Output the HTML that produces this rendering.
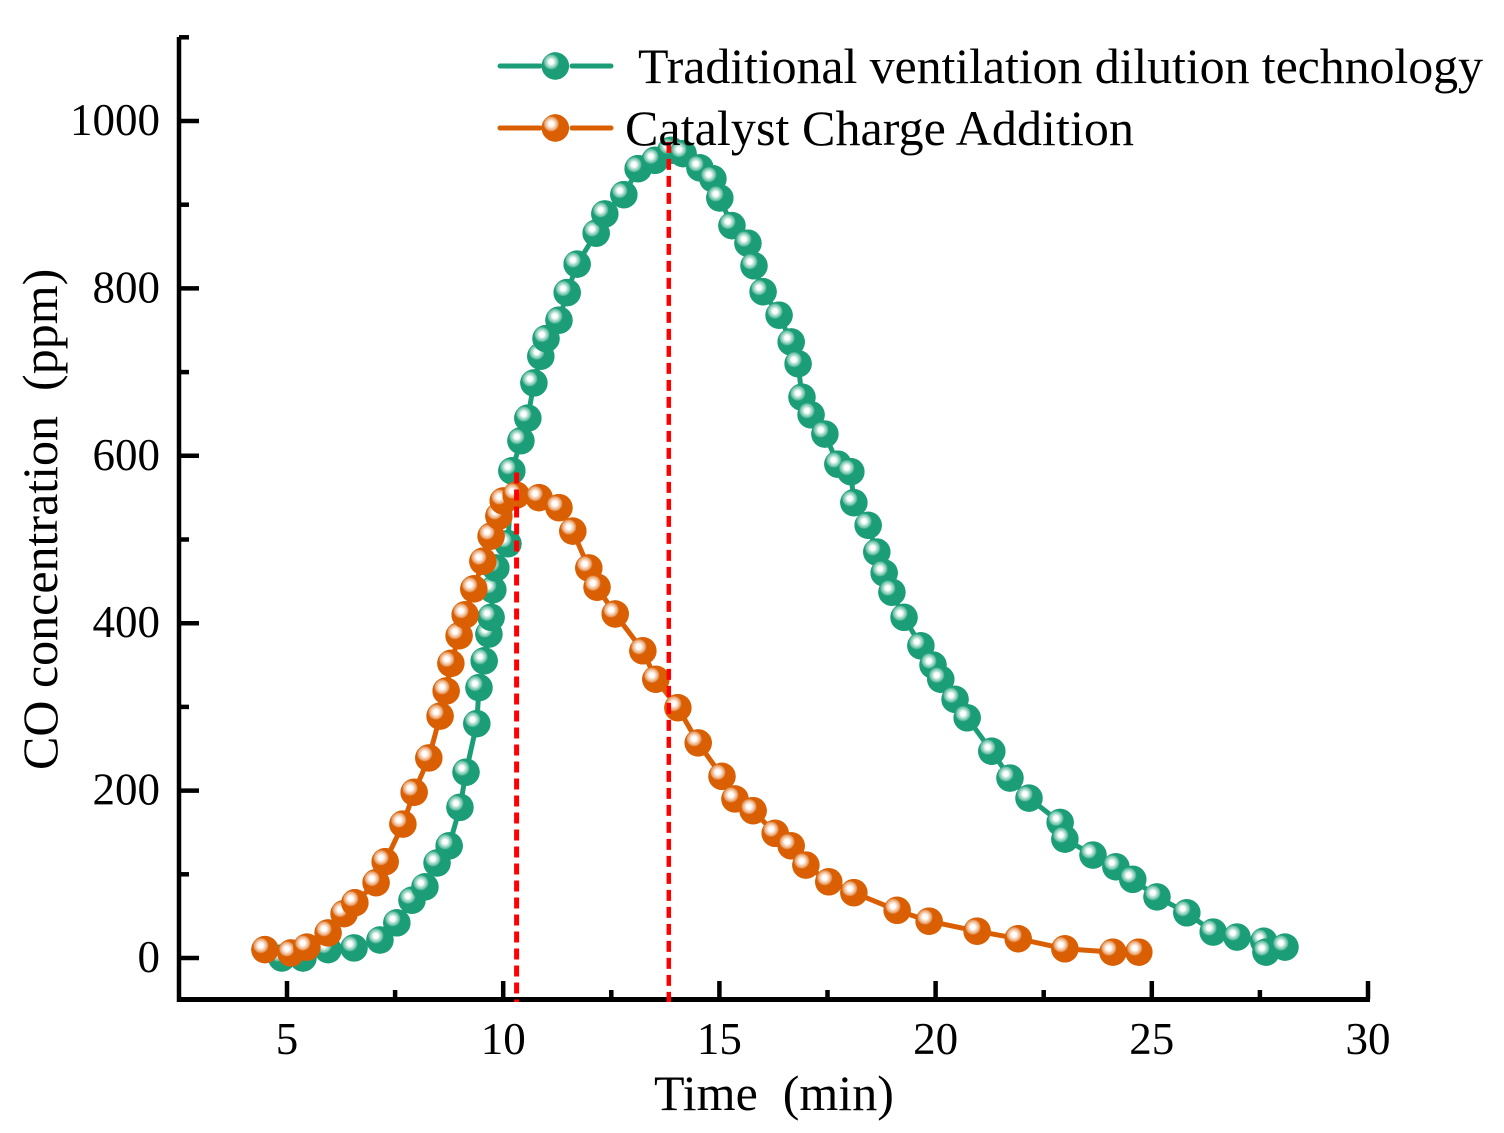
<!DOCTYPE html>
<html>
<head>
<meta charset="utf-8">
<title>CO concentration vs time</title>
<style>
html,body{margin:0;padding:0;background:#fff;}
svg{display:block;}
text{font-family:"Liberation Serif",serif;fill:#000;white-space:pre;}
</style>
</head>
<body>
<svg id="chart" xmlns="http://www.w3.org/2000/svg" width="1504" height="1133" viewBox="0 0 1504 1133">
<defs>
<radialGradient id="gloss-green" cx="0.35" cy="0.35" r="0.29">
<stop offset="0" stop-color="#ffffff"/><stop offset="0.28" stop-color="#ffffff"/><stop offset="0.55" stop-color="#b4e0d2"/><stop offset="0.85" stop-color="#66bfa4"/><stop offset="1" stop-color="#1b9e77"/>
</radialGradient>
<radialGradient id="gloss-orange" cx="0.35" cy="0.35" r="0.29">
<stop offset="0" stop-color="#ffffff"/><stop offset="0.28" stop-color="#ffffff"/><stop offset="0.55" stop-color="#f6d3b8"/><stop offset="0.85" stop-color="#e79c64"/><stop offset="1" stop-color="#d95f02"/>
</radialGradient>
</defs>
<g id="series"></g>
<g id="axes"></g>
<g id="refs"></g>
<g id="legend">
<g>
<line x1="500" y1="66" x2="540" y2="66" stroke="#1b9e77" stroke-width="5" stroke-linecap="round"/>
<line x1="572" y1="66" x2="611" y2="66" stroke="#1b9e77" stroke-width="5" stroke-linecap="round"/>
<circle cx="555.3" cy="66" r="13.7" fill="#1b9e77"/>
<circle cx="555.3" cy="66" r="13.7" fill="url(#gloss-green)"/>
<text x="638" y="83" font-size="50" textLength="845">Traditional ventilation dilution technology</text>
</g>
<g>
<line x1="500" y1="128" x2="540" y2="128" stroke="#d95f02" stroke-width="5" stroke-linecap="round"/>
<line x1="572" y1="128" x2="611" y2="128" stroke="#d95f02" stroke-width="5" stroke-linecap="round"/>
<circle cx="555.3" cy="128" r="13.7" fill="#d95f02"/>
<circle cx="555.3" cy="128" r="13.7" fill="url(#gloss-orange)"/>
<text x="625" y="145" font-size="50" textLength="509">Catalyst Charge Addition</text>
</g>
</g>
</svg>
<script>
const traditionalTime = [4.88,5.37,5.95,6.55,7.15,7.54,7.89,8.19,8.47,8.75,9.00,9.14,9.39,9.44,9.56,9.67,9.72,9.76,9.83,10.11,10.20,10.41,10.57,10.71,10.87,10.99,11.29,11.48,11.71,12.15,12.35,12.79,13.12,13.51,13.88,14.16,14.55,14.85,15.01,15.29,15.66,15.80,16.01,16.38,16.66,16.82,16.91,17.12,17.44,17.74,18.04,18.11,18.44,18.64,18.81,18.99,19.27,19.66,19.94,20.12,20.45,20.73,21.30,21.72,22.16,22.88,22.99,23.64,24.17,24.56,25.12,25.81,26.42,26.97,27.59,27.64,28.08];
const traditionalCO = [0,0,10,12,21.5,42,69,85,113.5,134,180,222,280,323,355,387,407,440,466,495,582,618,645,687,719,740,762,795,829,866,889,912,943,953,965,961,944,931,908,875,854,827,796,768,736,710,670,649,626,590,581,544,517,485,460,437,407,373,350,333,309,287,247,215,191,162,142,123,109,94,73,54,31,25,20,7,13];
const catalystTime = [4.49,5.09,5.46,5.95,6.32,6.57,7.06,7.27,7.68,7.94,8.28,8.54,8.68,8.79,8.98,9.12,9.32,9.53,9.72,9.90,10.00,10.30,10.83,11.29,11.61,11.98,12.17,12.59,13.23,13.53,14.04,14.51,15.06,15.36,15.78,16.29,16.66,17.00,17.53,18.11,19.11,19.85,20.96,21.91,22.99,24.10,24.70];
const catalystCO = [10,6,13,30,53,66,90,115,160,198,239,289,319,352,385,410,441,474,504,528,546,553,550,538,510,466,443,411,367,333,299,257,217,190,176,149,134,111,91,78,57,44,32,23,11,7,7];
const xTickValues = [5,10,15,20,25,30];
const xMinorValues = [7.5,12.5,17.5,22.5,27.5];
const yTickValues = [0,200,400,600,800,1000];
const yMinorValues = [100,300,500,700,900,1100];
const peakTimes = [10.31,13.83];
const peakTops = [580,975];

const NS = 'http://www.w3.org/2000/svg';
function xScale(v){ return 287 + (v - 5) * 43.24; }
function yScale(v){ return 958 - v * 0.837; }
function make(tag, attrs, parent){
  const el = document.createElementNS(NS, tag);
  for (const k in attrs) el.setAttribute(k, attrs[k]);
  parent.appendChild(el);
  return el;
}
const seriesG = document.getElementById('series');
const refsG = document.getElementById('refs');
const axesG = document.getElementById('axes');

function drawSeries(name, times, values, color, gloss){
  const g = make('g', {}, seriesG);
  
  
  const pts = times.map((t, i) => xScale(t).toFixed(1) + ',' + yScale(values[i]).toFixed(1)).join(' ');
  const line = make('polyline', {points: pts, fill: 'none', stroke: color, 'stroke-width': 5}, g);
  
  
  times.forEach((t, i) => {
    const m = make('g', {}, g);
    
    
    make('circle', {cx: xScale(t), cy: yScale(values[i]), r: 13.7, fill: color}, m);
    make('circle', {cx: xScale(t), cy: yScale(values[i]), r: 13.7, fill: gloss}, m);
  });
}
drawSeries('traditional', traditionalTime, traditionalCO, '#1b9e77', 'url(#gloss-green)');
drawSeries('catalyst', catalystTime, catalystCO, '#d95f02', 'url(#gloss-orange)');

peakTimes.forEach((t, i) => {
  const l = make('line', {x1: xScale(t), x2: xScale(t), y1: yScale(peakTops[i]), y2: 1002, stroke: '#ff0000', 'stroke-width': i === 0 ? 5 : 4.5, 'stroke-dasharray': '11 6'}, refsG);
  
  
});

const xAxis = make('line', {x1: 177, x2: 1370, y1: 999.5, y2: 999.5, stroke: '#000', 'stroke-width': 5}, axesG);


const yAxis = make('line', {x1: 179, x2: 179, y1: 37, y2: 1002, stroke: '#000', 'stroke-width': 4.5}, axesG);



xTickValues.forEach(v => {
  const t = make('line', {x1: xScale(v), x2: xScale(v), y1: 981, y2: 999, stroke: '#000', 'stroke-width': 4.5}, axesG);
  
  
  const lab = make('text', {x: xScale(v), y: 1054, 'font-size': 45, 'text-anchor': 'middle'}, axesG);
  lab.textContent = v;
  
  
});
xMinorValues.forEach(v => {
  const t = make('line', {x1: xScale(v), x2: xScale(v), y1: 990, y2: 999, stroke: '#000', 'stroke-width': 4.5}, axesG);
  
  
});
yTickValues.forEach(v => {
  const t = make('line', {x1: 179, x2: 199, y1: yScale(v), y2: yScale(v), stroke: '#000', 'stroke-width': 4.5}, axesG);
  
  
  const lab = make('text', {x: 160, y: yScale(v) + 14, 'font-size': 45, 'text-anchor': 'end'}, axesG);
  lab.textContent = v;
  
  
});
yMinorValues.forEach(v => {
  const t = make('line', {x1: 179, x2: 189, y1: yScale(v), y2: yScale(v), stroke: '#000', 'stroke-width': 4.5}, axesG);
  
  
});

const xTitle = make('text', {x: 654, y: 1110, 'font-size': 50}, axesG);
xTitle.textContent = 'Time  (min)';


const yTitle = make('text', {transform: 'translate(57,770) rotate(-90)', x: 0, y: 0, 'font-size': 50}, axesG);
yTitle.textContent = 'CO concentration  (ppm)';


</script>
</body>
</html>
